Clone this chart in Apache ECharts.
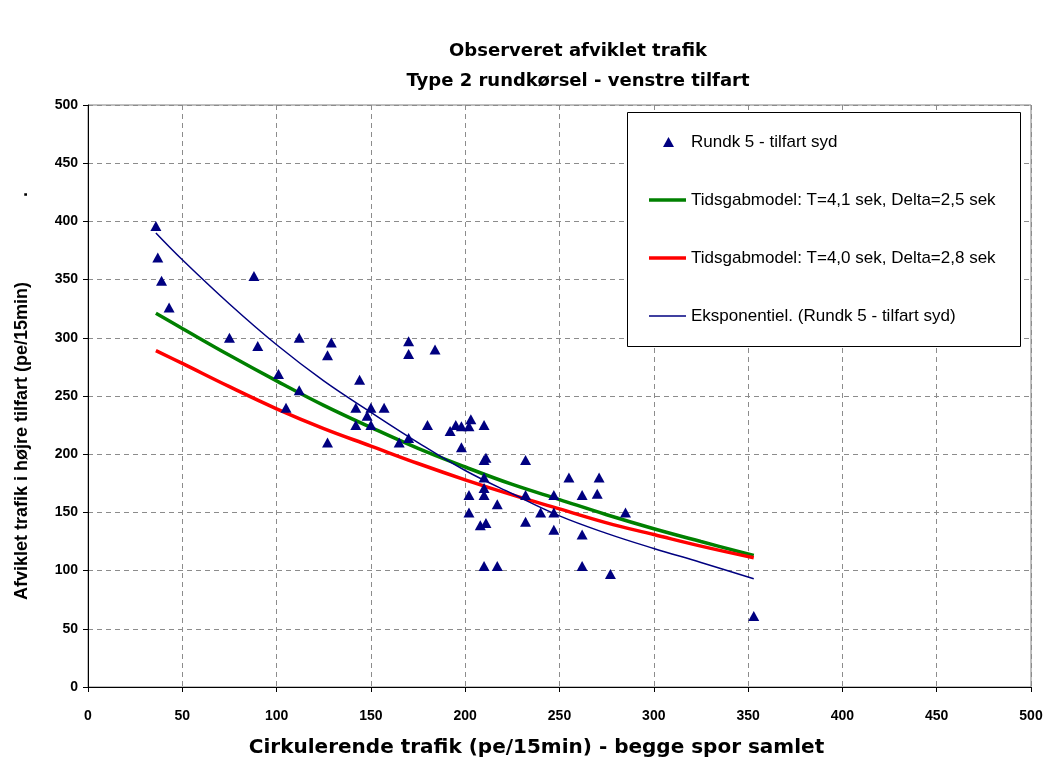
<!DOCTYPE html>
<html>
<head>
<meta charset="utf-8">
<title>Observeret afviklet trafik</title>
<script src="https://cdn.jsdelivr.net/npm/echarts@6/dist/echarts.min.js"></script>
<style>
  html, body { margin: 0; padding: 0; background: #fff; }
  #main { width: 1048px; height: 760px; }
</style>
</head>
<body>
<div id="main"></div>
<script>
// observed points (circulating flow, entry flow)
var obsX = [36, 37, 39, 43, 75, 88, 90, 101, 105, 112, 112, 127, 129, 127, 142, 142, 144, 148, 150, 150,
            157, 165, 170, 170, 170, 184, 180, 192, 195, 198, 202, 203, 198, 210, 210, 211, 210, 210, 202, 210,
            202, 217, 208, 211, 210, 217, 232, 232, 232, 240, 247, 247, 247, 255, 262, 262, 262, 271, 270, 277,
            285, 353];
var obsY = [396, 369, 349, 326, 300, 353, 293, 269, 240, 300, 255, 285, 296, 210, 240, 225, 264, 233, 240, 225,
            240, 210, 214, 297, 286, 290, 225, 220, 225, 224, 224, 230, 206, 225, 195, 197, 180, 171, 165, 165,
            150, 157, 139, 141, 104, 104, 195, 165, 142, 150, 165, 150, 135, 180, 165, 131, 104, 180, 166, 97,
            150, 61];

// model curves
var curveX   = [36, 50, 75, 100, 125, 150, 175, 200, 225, 250, 275, 300, 325, 353];
var greenY   = [321, 308, 285, 263, 242, 223, 205, 189, 174, 161, 148, 136, 125, 113];
var redY     = [289, 278, 258, 239, 222, 207, 192, 178, 165, 153, 141, 131, 121, 111];
var blueY    = [390, 367, 329, 294, 263, 236, 210, 186, 166, 147, 132, 119, 107, 93];

var seriesNames = [
    'Rundk 5 - tilfart syd',
    'Tidsgabmodel: T=4,1 sek, Delta=2,5 sek',
    'Tidsgabmodel: T=4,0 sek, Delta=2,8 sek',
    'Eksponentiel. (Rundk 5 - tilfart syd)'
];
var lineColors = ['#008000', '#ff0000', '#000080'];
var lineWidths = [3.5, 3.5, 1.5];

function pairs(xs, ys) {
    return xs.map(function (x, i) { return [x, ys[i]]; });
}

var dom = document.getElementById('main');
var myChart = echarts.init(dom, null, { renderer: 'canvas' });

var boldFont = 'DejaVu Sans';
var legendText = {
    fontFamily: 'Liberation Sans',
    fontSize: 17,
    lineHeight: 20,
    color: '#000'
};

// one legend per row so each key gets its own look
var legends = [{
    orient: 'vertical',
    left: 663,
    top: 132,
    padding: 0,
    z: 10,
    itemWidth: 11,
    itemHeight: 10,
    selectedMode: false,
    textStyle: Object.assign({ padding: [0, 0, 0, 12] }, legendText),
    data: [{ name: seriesNames[0], icon: 'triangle' }]
}];
[1, 2, 3].forEach(function (k) {
    legends.push({
        orient: 'vertical',
        left: 649,
        top: 132 + k * 58,
        padding: 0,
        z: 10,
        itemWidth: 37,
        itemHeight: lineWidths[k - 1],
        selectedMode: false,
        textStyle: legendText,
        data: [{ name: seriesNames[k], icon: 'rect' }]
    });
});

var series = [{
    name: seriesNames[0],
    type: 'scatter',
    symbol: 'triangle',
    symbolSize: [11, 10],
    z: 4,
    itemStyle: { color: '#000080', opacity: 1 },
    data: pairs(obsX, obsY)
}];
[greenY, redY, blueY].forEach(function (ys, i) {
    series.push({
        name: seriesNames[i + 1],
        type: 'line',
        smooth: 0.4,
        symbol: 'none',
        z: 3,
        lineStyle: { color: lineColors[i], width: lineWidths[i] },
        itemStyle: { color: lineColors[i] },
        data: pairs(curveX, ys)
    });
});

var option = {
    backgroundColor: '#ffffff',
    animation: false,
    title: {
        text: 'Observeret afviklet trafik\nType 2 rundkørsel - venstre tilfart',
        left: 573,
        top: 31,
        textAlign: 'center',
        textStyle: {
            fontFamily: boldFont,
            fontWeight: 'bold',
            fontSize: 18,
            lineHeight: 30,
            color: '#000'
        }
    },
    grid: {
        left: 88,
        right: 17,
        top: 105,
        bottom: 73,
        outerBoundsMode: 'none',
        containLabel: false,
        show: true,
        borderColor: '#808080',
        borderWidth: 1,
        backgroundColor: '#fff'
    },
    graphic: [{
        type: 'rect',
        left: 627,
        top: 112,
        z: 5,
        shape: { width: 393, height: 234 },
        style: { fill: '#fff', stroke: '#000', lineWidth: 1 }
    }],
    legend: legends,
    xAxis: {
        type: 'value',
        min: 0,
        max: 500,
        interval: 50,
        name: 'Cirkulerende trafik (pe/15min) - begge spor samlet',
        nameLocation: 'middle',
        nameGap: 51,
        nameTextStyle: {
            fontFamily: boldFont,
            fontWeight: 'bold',
            fontSize: 20,
            color: '#000',
            padding: [0, 46, 0, 0]
        },
        axisLine: { show: true, onZero: false, lineStyle: { color: '#000', width: 1 } },
        axisTick: { show: true, inside: false, length: 5, lineStyle: { color: '#000' } },
        axisLabel: {
            margin: 22,
            fontFamily: 'Liberation Sans',
            fontWeight: 'bold',
            fontSize: 14,
            color: '#000'
        },
        splitLine: {
            show: true,
            lineStyle: { color: '#8c8c8c', type: [5, 4], width: 1 }
        }
    },
    yAxis: {
        type: 'value',
        min: 0,
        max: 500,
        interval: 50,
        name: 'Afviklet trafik i højre tilfart (pe/15min)                 .',
        nameLocation: 'middle',
        nameGap: 57,
        nameTextStyle: {
            fontFamily: 'Liberation Sans',
            fontWeight: 'bold',
            fontSize: 18,
            color: '#000'
        },
        axisLine: { show: true, onZero: false, lineStyle: { color: '#000', width: 1 } },
        axisTick: { show: true, inside: false, length: 5, lineStyle: { color: '#000' } },
        axisLabel: {
            margin: 10,
            fontFamily: 'Liberation Sans',
            fontWeight: 'bold',
            fontSize: 14,
            color: '#000'
        },
        splitLine: {
            show: true,
            lineStyle: { color: '#8c8c8c', type: [5, 4], width: 1 }
        }
    },
    series: series
};

option && myChart.setOption(option);

window.addEventListener('resize', myChart.resize);
</script>
</body>
</html>
